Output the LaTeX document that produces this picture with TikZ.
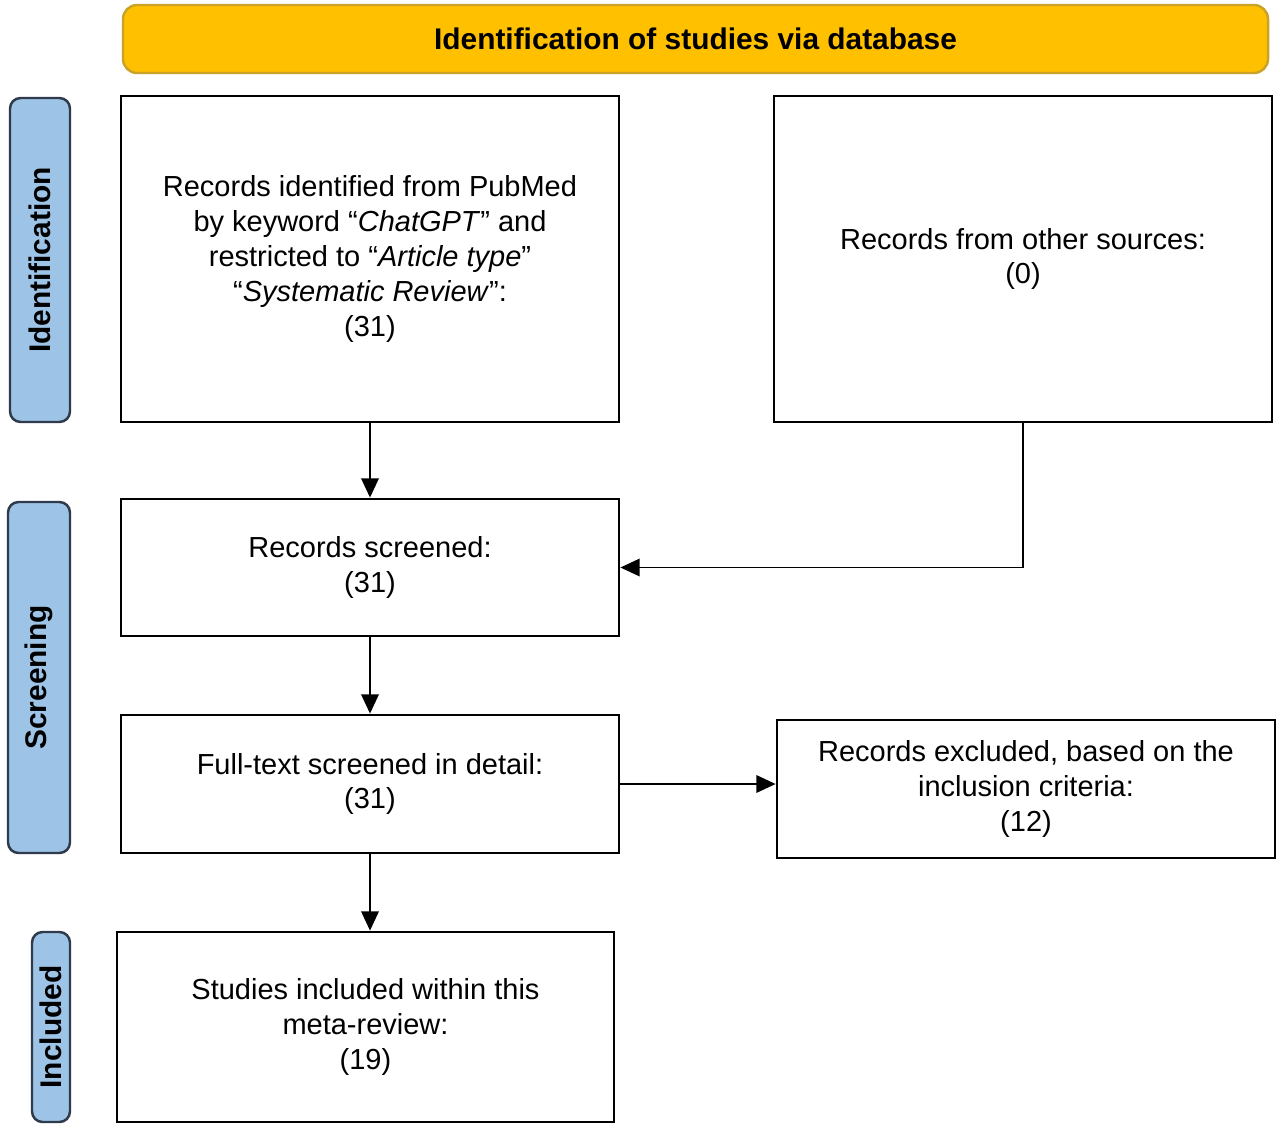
\documentclass[tikz,border=0pt]{standalone}
\usepackage{fontspec}
\setmainfont{Liberation Sans}
\usetikzlibrary{positioning, arrows.meta}
\definecolor{banner}{HTML}{FFC000}
\definecolor{bannerline}{HTML}{C9A227}
\definecolor{phase}{HTML}{9DC3E6}
\definecolor{phaseline}{HTML}{2F3B4C}

\begin{document}
\begin{tikzpicture}[x=0.02cm, y=-0.02cm,
    every node/.style={font=\fontsize{16.5}{19.9}\selectfont},
    box/.style={draw, line width=1.6pt, align=center, inner sep=0pt},
    phase/.style={draw=phaseline, fill=phase, line width=1.4pt, rounded corners=6pt, rotate=90, font=\fontsize{17}{20}\selectfont\bfseries, inner sep=0pt},
    arr/.style={-{Triangle[length=11pt, width=10pt]}, line width=1pt}]
    \useasboundingbox (0,0) rectangle (1280,1128);

    % header
    \node[draw=bannerline, fill=banner, line width=1.4pt, rounded corners=8pt,
      minimum width=1145*0.02cm, minimum height=68*0.02cm,
      font=\fontsize{17}{20}\selectfont\bfseries] (head) at (695.5,39) {Identification of studies via database};

    % phases
    \node[phase, minimum width=324*0.02cm, minimum height=60*0.02cm] (ident) at (40,260) {Identification};
    \node[phase, minimum width=351*0.02cm, minimum height=62*0.02cm] (screen) at (39,677.5) {Screening};
    \node[phase, minimum width=190*0.02cm, minimum height=38*0.02cm] (incl) at (51,1027) {Included};

    % boxes
    \node[box, minimum width=498*0.02cm, minimum height=326*0.02cm] (pubmed) at (370,259)
      {Records identified from PubMed\\by keyword “\textit{ChatGPT}” and\\restricted to “\textit{Article type}”\\“\textit{Systematic Review}”:\\(31)};
    \node[box, minimum width=498*0.02cm, minimum height=326*0.02cm] (other) at (1023,259)
      {Records from other sources:\\(0)};
    \node[box, minimum width=498*0.02cm, minimum height=137*0.02cm] (screened) at (370,567.5)
      {Records screened:\\(31)};
    \node[box, minimum width=498*0.02cm, minimum height=138*0.02cm] (fulltext) at (370,784)
      {Full-text screened in detail:\\(31)};
    \node[box, minimum width=498*0.02cm, minimum height=138*0.02cm] (excluded) at (1026,789)
      {Records excluded, based on the\\inclusion criteria:\\(12)};
    \node[box, minimum width=497*0.02cm, minimum height=190*0.02cm] (included) at (365.5,1027)
      {Studies included within this\\meta-review:\\(19)};

    % connectors
    \draw[arr] (pubmed) -- (screened);
    \draw[arr] (other.south) |- (screened.east);
    \draw[arr] (screened) -- (fulltext);
    \draw[arr] (fulltext.east) -- (fulltext.east -| excluded.west);
    \draw[arr] (fulltext.south) -- (fulltext.south |- included.north);
\end{tikzpicture}
\end{document}
